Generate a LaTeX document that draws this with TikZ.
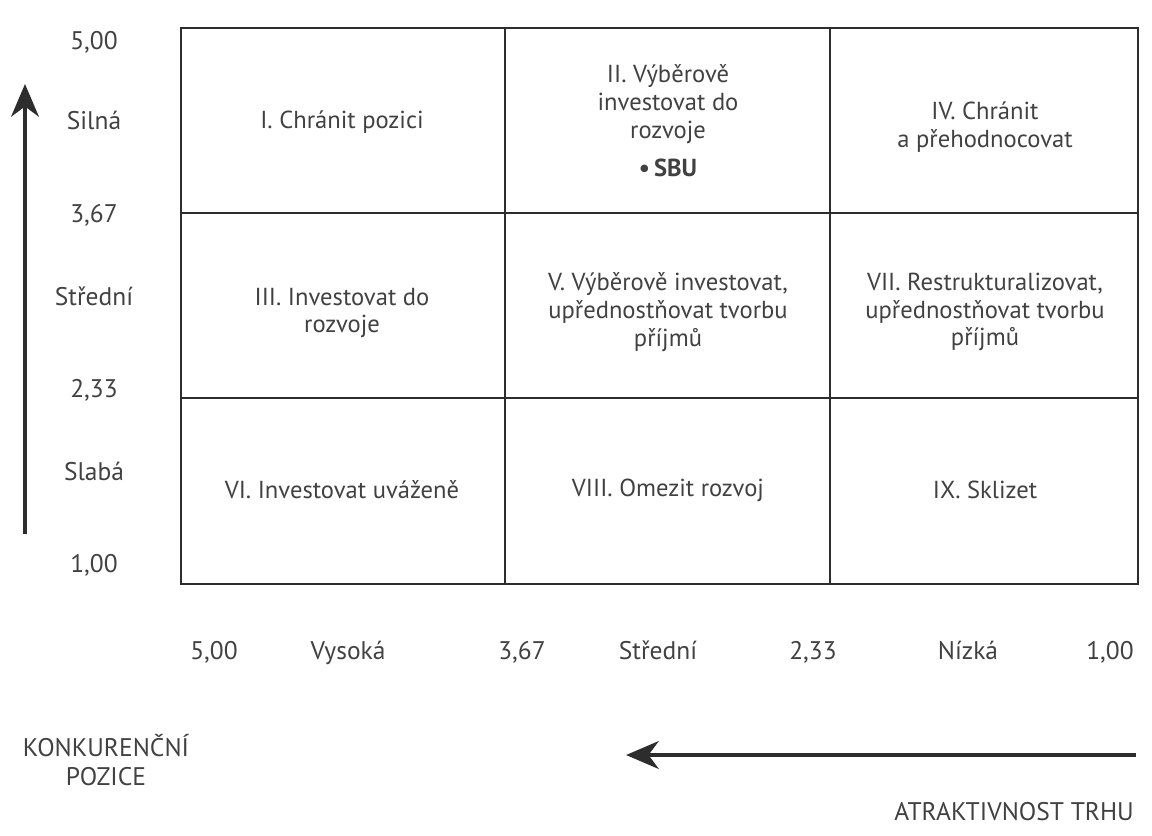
\documentclass[tikz,border=0pt]{standalone}
\usepackage{fontspec}
\setmainfont{PT Sans}
\usepackage{xcolor}
\usetikzlibrary{arrows.meta, positioning}
\definecolor{gridgray}{RGB}{45,45,45}
\definecolor{textgray}{RGB}{65,65,65}
\tikzset{
  gridline/.style={draw=gridgray, line width=1.1pt},
  cell/.style={align=center, text=textgray, font=\fontsize{14}{15.8}\selectfont},
  axislabel/.style={text=textgray, font=\fontsize{14.5}{16.5}\selectfont, text height=11pt, text depth=3pt},
  axistitle/.style={align=center, text=textgray, font=\fontsize{14.5}{16.5}\selectfont},
  bigarrow/.style={draw=gridgray, line width=2.8pt, -{Stealth[length=6.5mm,width=5.5mm,inset=2mm]}}
}

\begin{document}
\begin{tikzpicture}[x=0.02cm, y=-0.02cm]
    \useasboundingbox (0,0) rectangle (1152,835);

    % Grid
    \draw[gridline] (181,28) rectangle (1138,584);
    \foreach \x in {505, 830} {
        \draw[gridline] (\x,28) -- (\x,584);
    }
    \foreach \y in {213, 398} {
        \draw[gridline] (181,\y) -- (1138,\y);
    }

    % Cells
    \node[cell] (chranit) at (342,122) {I. Chránit pozici};
    \node[cell] (vyberove) at (668,121) {II. Výběrově\\investovat do\\rozvoje\\[6pt]\textbf{•\,SBU}};
    \node[cell] (prehodnocovat) at (985,127) {IV. Chránit\\a přehodnocovat};
    \node[cell] (investovat) at (342,313) {III. Investovat do\\rozvoje};
    \node[cell] (vybinvest) at (668,312) {V. Výběrově investovat,\\upřednostňovat tvorbu\\příjmů};
    \node[cell] (restrukt) at (985,312) {VII. Restrukturalizovat,\\upřednostňovat tvorbu\\příjmů};
    \node[cell] (uvazene) at (342,490) {VI. Investovat uváženě};
    \node[cell] (omezit) at (668,490) {VIII. Omezit rozvoj};
    \node[cell] (sklizet) at (985,490) {IX. Sklizet};

    % Y-axis labels
    \foreach \y/\val/\nm in {42/{5,00}/ya, 122/Silná/yb, 215/{3,67}/yc, 298/Střední/yd,
                             390/{2,33}/ye, 473/Slabá/yf, 565/{1,00}/yg} {
        \node[axislabel] (\nm) at (94,\y) {\val};
    }

    % X-axis labels
    \foreach \x/\val/\nm in {214/{5,00}/xa, 348/Vysoká/xb, 522/{3,67}/xc, 658/Střední/xd,
                             813/{2,33}/xe, 968/Nízká/xf, 1110/{1,00}/xg} {
        \node[axislabel] (\nm) at (\x,652) {\val};
    }

    % Axis titles
    \node[axistitle] (pozice) at (106,760) {KONKURENČNÍ\\POZICE};
    \node[axistitle, anchor=east] (trh) at (1140,812) {ATRAKTIVNOST TRHU};

    % Arrows
    \coordinate (ystart) at (25,534);
    \coordinate (yend) at (25,84);
    \coordinate (xstart) at (1136,755);
    \coordinate (xend) at (626,755);
    \draw[bigarrow] (ystart) -- (yend);
    \draw[bigarrow] (xstart) -- (xend);
\end{tikzpicture}
\end{document}
